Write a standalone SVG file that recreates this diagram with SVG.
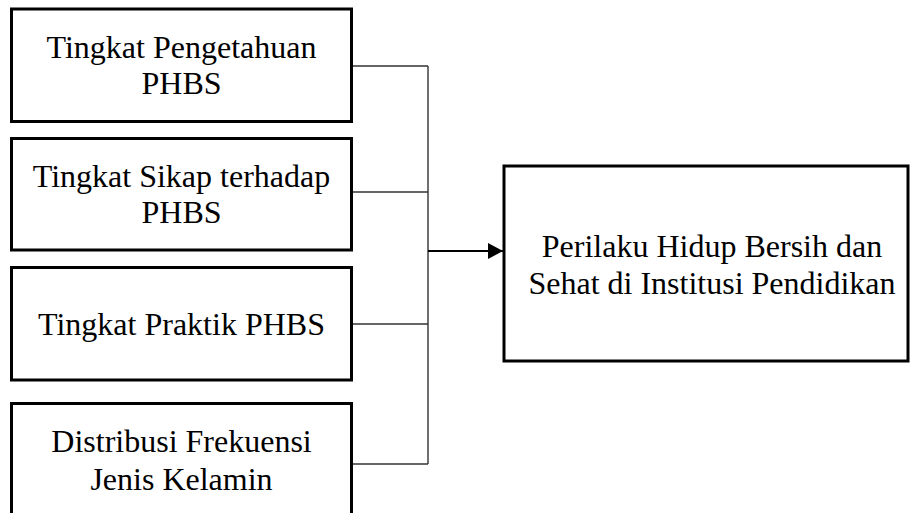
<svg xmlns="http://www.w3.org/2000/svg" width="911" height="513" viewBox="0 0 911 513">
<style>
.box{fill:#fff;stroke:#000;stroke-width:3}
.t{font-family:"Liberation Serif","Times New Roman",serif;font-size:32px;fill:#000;text-anchor:middle}
.c{fill:none;stroke:#333;stroke-width:1.4}
.a{fill:none;stroke:#000;stroke-width:2.2}
</style>
<defs>
<marker id="ah" markerUnits="userSpaceOnUse" markerWidth="16" markerHeight="18" refX="15" refY="8" orient="auto">
<polygon points="0,0 15,8 0,16" fill="#000"/>
</marker>
</defs>
<rect width="911" height="513" fill="#fff"/>
<g id="connectors">
<path class="c" d="M353 66H428M353 192H428M353 324H428M353 464H428M428 66V464"/>
<path class="a" d="M428 251H503" marker-end="url(#ah)"/>
</g>
<g id="n1">
<rect class="box" x="11.5" y="9" width="340" height="112.5"/>
<text class="t" x="181.5" y="58">Tingkat Pengetahuan</text>
<text class="t" x="181.5" y="94">PHBS</text>
</g>
<g id="n2">
<rect class="box" x="11.5" y="138.5" width="340" height="111.5"/>
<text class="t" x="181.5" y="187">Tingkat Sikap terhadap</text>
<text class="t" x="181.5" y="223">PHBS</text>
</g>
<g id="n3">
<rect class="box" x="11.5" y="267.5" width="340" height="112.5"/>
<text class="t" x="181.5" y="335">Tingkat Praktik PHBS</text>
</g>
<g id="n4">
<rect class="box" x="11.5" y="403.5" width="340" height="130"/>
<text class="t" x="181.5" y="452">Distribusi Frekuensi</text>
<text class="t" x="181.5" y="490">Jenis Kelamin</text>
</g>
<g id="n5">
<rect class="box" x="504" y="166" width="404" height="195"/>
<text class="t" x="712" y="257">Perilaku Hidup Bersih dan</text>
<text class="t" x="712" y="294">Sehat di Institusi Pendidikan</text>
</g>
</svg>
